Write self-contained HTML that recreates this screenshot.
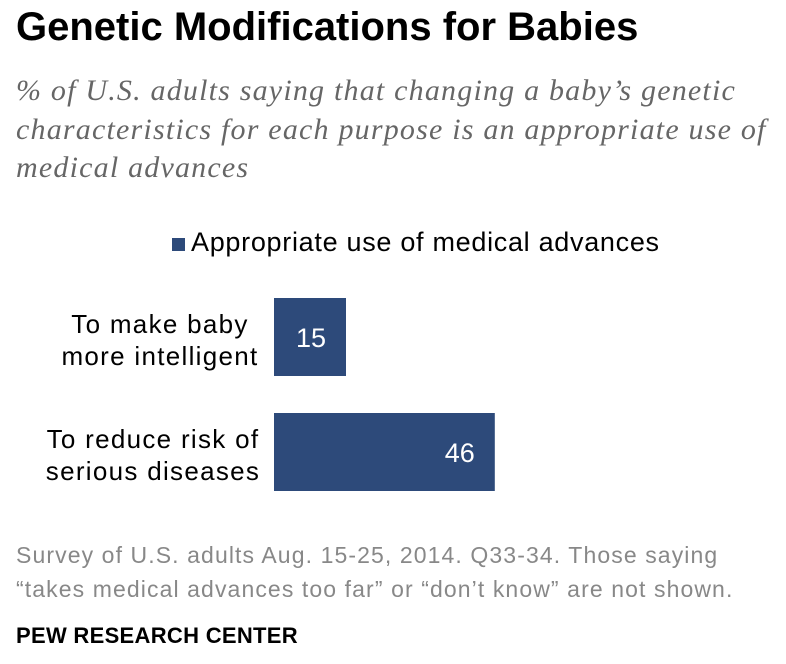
<!DOCTYPE html>
<html><head><meta charset="utf-8"><style>
body{margin:0;width:786px;height:664px;background:#fff;position:relative;overflow:hidden;font-family:"Liberation Sans",sans-serif}
.abs{position:absolute;white-space:nowrap}
</style></head><body>
<div class="abs" style="left:16px;top:5px;font-size:40px;font-weight:bold;letter-spacing:0px;color:#000">Genetic Modifications for Babies</div>
<div class="abs" style="left:16px;top:72px;font-family:'Liberation Serif',serif;font-style:italic;font-size:30px;letter-spacing:1.2px;line-height:38.5px;color:#666">% of U.S. adults saying that changing a baby’s genetic<br>characteristics for each purpose is an appropriate use of<br>medical advances</div>
<div class="abs" style="left:172px;top:227px;font-size:27px;letter-spacing:0.7px;color:#000"><span style="display:inline-block;width:13px;height:13px;background:#2d4a7a;margin-right:6px"></span>Appropriate use of medical advances</div>
<svg id="chart" class="abs" style="left:0;top:0" width="786" height="664"></svg>
<div class="abs" style="left:16px;top:538px;font-size:23px;letter-spacing:1.1px;line-height:34px;color:#888">Survey of U.S. adults Aug. 15-25, 2014. Q33-34. Those saying<br>“takes medical advances too far” or “don’t know” are not shown.</div>
<div class="abs" style="left:16px;top:623px;font-size:22px;letter-spacing:0.3px;font-weight:bold;color:#000">PEW RESEARCH CENTER</div>
<script>
const categories=[["To make baby","more intelligent"],["To reduce risk of","serious diseases"]];
const values=[15,46];
const svg=document.getElementById('chart');
const NS='http://www.w3.org/2000/svg';
const x0=274, pxPerUnit=4.8;
function xScale(v){return x0+v*pxPerUnit;}
function yBand(i){return 298+i*115;}
const bh=78;
values.forEach((v,i)=>{
  const r=document.createElementNS(NS,'rect');
  r.setAttribute('x',x0);r.setAttribute('y',yBand(i));
  r.setAttribute('width',xScale(v)-x0);r.setAttribute('height',bh);
  r.setAttribute('fill','#2d4a7a');
  
  
  svg.appendChild(r);
  const t=document.createElementNS(NS,'text');
  t.setAttribute('x',xScale(v)-20);t.setAttribute('y',yBand(i)+bh/2+10);
  t.setAttribute('text-anchor','end');t.setAttribute('fill','#fff');
  t.setAttribute('font-size','27');t.setAttribute('font-family','Liberation Sans, sans-serif');
  t.textContent=v;
  
  
  svg.appendChild(t);
  categories[i].forEach((line,j)=>{
    const l=document.createElementNS(NS,'text');
    l.setAttribute('x',i===0?160:153);l.setAttribute('y',yBand(i)+bh/2-4+j*32);
    l.setAttribute('text-anchor','middle');l.setAttribute('fill','#000');
    l.setAttribute('font-size','26');l.setAttribute('letter-spacing','1.3');
    l.setAttribute('font-family','Liberation Sans, sans-serif');
    l.textContent=line;
    
    
    svg.appendChild(l);
  });
});
</script>
</body></html>
